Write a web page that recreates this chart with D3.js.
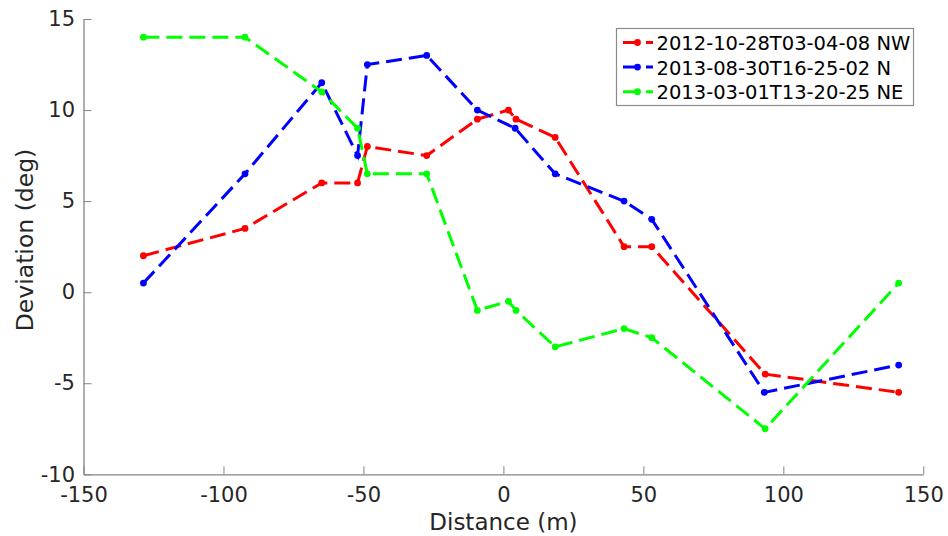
<!DOCTYPE html>
<html>
<head>
<meta charset="utf-8">
<script src="https://cdn.jsdelivr.net/npm/d3@7"></script>
<style>
  html, body { margin: 0; padding: 0; background: #fff; }
  svg { display: block; font-family: "DejaVu Sans", sans-serif; }
</style>
</head>
<body>
<svg id="chart" width="948" height="536"></svg>
<script>
// Distance along the profile (m) and deviation (deg) for each survey
const distNW = [-128.6, -92.3, -64.9, -52.1, -48.6, -27.4, -9.3, 1.8, 4.5, 18.5, 43.1, 53.0, 93.5, 141.2];
const devNW  = [2.0, 3.5, 6.0, 6.0, 8.0, 7.5, 9.5, 10.0, 9.5, 8.5, 2.5, 2.5, -4.5, -5.5];

const distN = [-128.6, -92.3, -64.9, -52.1, -48.6, -27.4, -9.3, 4.2, 18.5, 43.1, 53.0, 93.2, 141.2];
const devN  = [0.5, 6.5, 11.5, 7.5, 12.5, 13.0, 10.0, 9.0, 6.5, 5.0, 4.0, -5.5, -4.0];

const distNE = [-128.6, -92.3, -64.9, -52.1, -48.6, -27.4, -9.3, 1.8, 4.5, 18.5, 43.1, 53.0, 93.5, 141.2];
const devNE  = [14.0, 14.0, 11.0, 9.0, 6.5, 6.5, -1.0, -0.5, -1.0, -3.0, -2.0, -2.5, -7.5, 0.5];

const seriesNames  = ["2012-10-28T03-04-08 NW", "2013-08-30T16-25-02 N", "2013-03-01T13-20-25 NE"];
const seriesColors = ["#ff0000", "#0000ff", "#00ff00"];

const xTicks = [-150, -100, -50, 0, 50, 100, 150];
const yTicks = [-10, -5, 0, 5, 10, 15];

const series = [
  { name: seriesNames[0], color: seriesColors[0], pts: distNW.map((d, i) => [d, devNW[i]]) },
  { name: seriesNames[1], color: seriesColors[1], pts: distN.map((d, i) => [d, devN[i]]) },
  { name: seriesNames[2], color: seriesColors[2], pts: distNE.map((d, i) => [d, devNE[i]]) }
];

const svg = d3.select("#chart");
const plotLeft = 83.5, plotRight = 923.3, plotTop = 19, plotBottom = 474.3;

const x = d3.scaleLinear().domain([-150, 150]).range([plotLeft, plotRight]);
const y = d3.scaleLinear().domain([-10, 15]).range([plotBottom, plotTop]);

const axisColor = "#858585";
const textColor = "#262626";
const plainNum = d => String(d);   // ASCII hyphen for negatives

// Bottom axis, ticks pointing inward
const gx = svg.append("g")
  .attr("transform", `translate(0,${plotBottom})`)
  .call(d3.axisBottom(x).tickValues(xTicks).tickFormat(plainNum)
    .tickSizeInner(-8).tickSizeOuter(0).tickPadding(12.5));
gx.select(".domain").attr("stroke", axisColor).attr("stroke-width", 1.3);
gx.selectAll(".tick line").attr("stroke", axisColor).attr("stroke-width", 1);
gx.selectAll(".tick text").attr("fill", textColor).attr("font-size", 21)
  .attr("font-family", "DejaVu Sans").attr("dy", "0.71em");

// Left axis, ticks pointing inward
const gy = svg.append("g")
  .attr("transform", `translate(${plotLeft},0)`)
  .call(d3.axisLeft(y).tickValues(yTicks).tickFormat(plainNum)
    .tickSizeInner(-8).tickSizeOuter(0).tickPadding(8.5));
gy.select(".domain").attr("stroke", axisColor).attr("stroke-width", 1.3);
gy.selectAll(".tick line").attr("stroke", axisColor).attr("stroke-width", 1);
gy.selectAll(".tick text").attr("fill", textColor).attr("font-size", 21)
  .attr("font-family", "DejaVu Sans");

// Axis titles
svg.append("text")
  .attr("x", (plotLeft + plotRight) / 2).attr("y", 529.5)
  .attr("text-anchor", "middle").attr("font-size", 23).attr("fill", textColor)
  .text("Distance (m)");

svg.append("text")
  .attr("transform", "translate(33,240) rotate(-90)")
  .attr("text-anchor", "middle").attr("font-size", 23.5).attr("fill", textColor)
  .text("Deviation (deg)");

// Series lines and markers
const line = d3.line().x(d => x(d[0])).y(d => y(d[1]));
const plot = svg.append("g");
series.forEach(s => {
  plot.append("path")
    .datum(s.pts)
    .attr("d", line)
    .attr("fill", "none")
    .attr("stroke", s.color)
    .attr("stroke-width", 3)
    .attr("stroke-dasharray", "16,7");
  plot.selectAll(null)
    .data(s.pts)
    .enter().append("circle")
    .attr("cx", d => x(d[0]))
    .attr("cy", d => y(d[1]))
    .attr("r", 3.4)
    .attr("fill", s.color);
});

// Legend
const lg = svg.append("g");
lg.append("rect")
  .attr("x", 616.5).attr("y", 28.5).attr("width", 297).attr("height", 77)
  .attr("fill", "#fff").attr("stroke", "#8c8c8c").attr("stroke-width", 1.2);
series.forEach((s, i) => {
  const cy = 42.5 + i * 24.6;
  lg.append("line")
    .attr("x1", 623).attr("x2", 653).attr("y1", cy).attr("y2", cy)
    .attr("stroke", s.color).attr("stroke-width", 3).attr("stroke-dasharray", "16,7");
  lg.append("circle").attr("cx", 637.5).attr("cy", cy).attr("r", 3.4).attr("fill", s.color);
  lg.append("text")
    .attr("x", 656.5).attr("y", cy + 7.5)
    .attr("font-size", 19.5).attr("fill", "#000")
    .text(s.name);
});
</script>
</body>
</html>
